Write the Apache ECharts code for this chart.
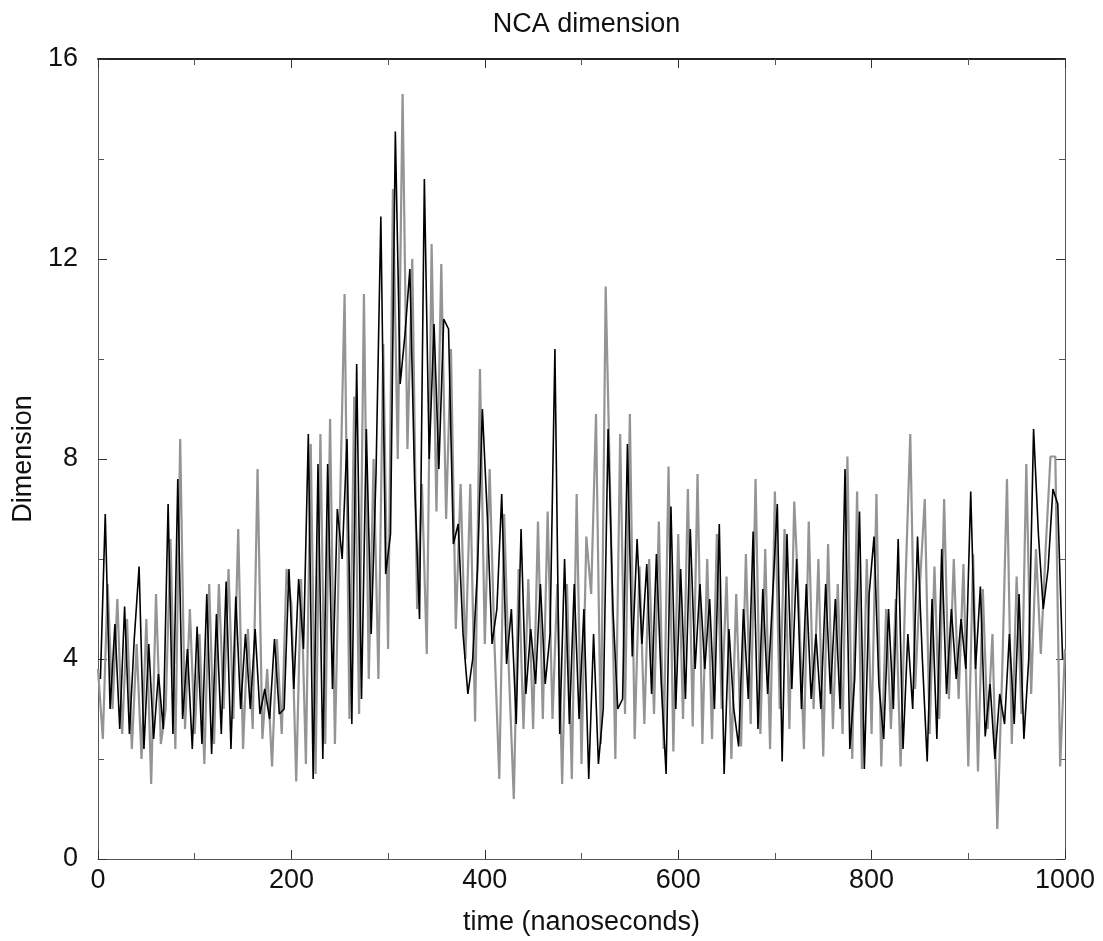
<!DOCTYPE html>
<html>
<head>
<meta charset="utf-8">
<script src="https://cdn.jsdelivr.net/npm/echarts@6/dist/echarts.min.js"></script>
<style>
html,body{margin:0;padding:0;background:#fff;}
#chart{width:1103px;height:941px;}
</style>
</head>
<body>
<div id="chart"></div>
<script>
// ---- data ----
const titleText = 'NCA dimension';
const xName = 'time (nanoseconds)';
const yName = 'Dimension';
const xTicks = [0, 200, 400, 600, 800, 1000];
const yTicks = [0, 4, 8, 12, 16];

// gray trace, sampled every 5 ns starting at 0 ns
const grayStart = 0, grayStep = 5;
const grayValues = [
  3.8, 2.4, 5.5, 3.0, 5.2, 2.5, 4.8, 2.2, 4.3, 2.0,
  4.8, 1.5, 5.3, 2.3, 3.0, 6.4, 2.2, 8.4, 2.6, 5.0,
  2.5, 4.5, 1.9, 5.5, 2.3, 5.5, 3.0, 5.8, 2.8, 6.6,
  2.2, 4.6, 2.6, 7.8, 2.4, 3.8, 1.85, 4.4, 2.5, 5.8,
  5.1, 1.55, 5.6, 1.9, 8.3, 1.7, 8.5, 2.3, 8.8, 2.3,
  6.8, 11.3, 2.8, 9.25, 2.9, 11.3, 3.6, 8.0, 3.6, 10.3,
  4.2, 13.4, 8.0, 15.3, 8.2, 12.0, 5.0, 7.5, 4.1, 12.3,
  6.95, 11.9, 6.8, 10.2, 4.6, 7.5, 4.0, 7.5, 2.75, 9.8,
  4.3, 7.8, 4.3, 1.6, 6.9, 3.7, 1.2, 5.8, 2.6, 5.6,
  2.6, 6.75, 2.8, 6.95, 2.8, 5.5, 1.5, 5.5, 1.6, 7.3,
  1.9, 6.45, 5.3, 8.9, 2.3, 11.45, 7.0, 2.0, 8.5, 2.9,
  8.9, 2.4, 5.85, 2.7, 6.0, 2.9, 6.75, 2.2, 7.85, 2.15,
  6.5, 2.8, 7.4, 2.65, 7.7, 2.3, 6.0, 2.4, 6.5, 3.0,
  5.65, 2.0, 5.3, 2.25, 6.1, 2.7, 7.6, 2.5, 6.2, 2.2,
  7.35, 3.0, 6.6, 2.6, 7.15, 5.0, 2.2, 6.75, 3.0, 6.0,
  2.05, 6.3, 2.6, 5.5, 2.5, 8.05, 2.0, 7.35, 1.8, 6.0,
  2.5, 7.3, 1.85, 5.0, 2.6, 5.2, 1.85, 5.5, 8.5, 3.4,
  5.5, 7.2, 2.5, 5.85, 2.8, 7.2, 3.2, 6.0, 3.2, 5.9,
  1.85, 6.1, 1.75, 5.4, 2.6, 4.5, 0.6, 3.7, 7.6, 2.3,
  5.65, 2.9, 7.9, 3.3, 6.2, 4.1, 6.2, 8.05, 8.05, 1.85,
  4.2
];

// black trace, sampled every 5 ns starting at 2.5 ns
const blackStart = 2.5, blackStep = 5;
const blackValues = [
  3.6, 6.9, 3.0, 4.7, 2.6, 5.05, 2.5, 4.4, 5.85, 2.2,
  4.3, 2.4, 3.7, 2.6, 7.1, 2.5, 7.6, 2.8, 4.2, 2.2,
  4.65, 2.3, 5.3, 2.1, 4.9, 2.5, 5.55, 2.2, 5.25, 3.0,
  4.5, 3.0, 4.6, 2.9, 3.4, 2.8, 4.4, 2.9, 3.0, 5.8,
  3.4, 5.6, 4.2, 8.5, 1.6, 7.9, 2.0, 7.9, 3.4, 7.0,
  6.0, 8.4, 2.7, 9.9, 3.2, 8.6, 4.5, 7.7, 12.85, 5.7,
  6.5, 14.55, 9.5, 10.5, 11.8, 7.5, 4.8, 13.6, 8.0, 10.7,
  7.8, 10.8, 10.6, 6.3, 6.7, 4.5, 3.3, 4.0, 5.8, 9.0,
  6.9, 4.3, 5.0, 7.3, 3.9, 5.0, 2.7, 6.6, 3.3, 4.6,
  3.5, 5.5, 3.5, 4.5, 10.2, 2.5, 6.0, 2.7, 5.5, 2.8,
  5.0, 1.6, 4.5, 1.9, 3.0, 8.6, 5.0, 3.0, 3.2, 8.3,
  4.05, 6.4, 4.3, 5.9, 3.3, 6.1, 3.5, 1.7, 7.05, 3.0,
  5.8, 3.2, 6.6, 3.8, 5.5, 3.8, 5.2, 3.0, 6.7, 1.7,
  4.6, 3.0, 2.25, 5.0, 3.2, 6.55, 2.6, 5.4, 3.3, 5.2,
  7.1, 1.95, 6.5, 3.4, 6.0, 3.0, 5.5, 3.2, 4.5, 3.0,
  5.5, 3.3, 5.2, 3.0, 7.8, 2.2, 3.6, 6.95, 1.8, 5.3,
  6.45, 3.5, 2.4, 5.0, 3.0, 6.4, 2.2, 4.5, 3.0, 6.45,
  4.0, 1.95, 5.2, 2.4, 6.2, 3.3, 5.0, 3.6, 4.8, 3.8,
  7.35, 3.8, 5.45, 2.45, 3.5, 2.0, 3.3, 2.7, 4.5, 2.7,
  5.3, 2.4, 4.0, 8.6, 6.5, 5.0, 5.8, 7.4, 7.1, 4.0
];

const grayData = grayValues.map((v, i) => [grayStart + i * grayStep, v]);
const blackData = blackValues.map((v, i) => [blackStart + i * blackStep, v]);

const FONT = 'Liberation Sans, Arial, Helvetica, sans-serif';
const chart = echarts.init(document.getElementById('chart'), null, {renderer: 'canvas'});

const xMin = xTicks[0], xMax = xTicks[xTicks.length - 1];
const yMin = yTicks[0], yMax = yTicks[yTicks.length - 1];
const xInt = xTicks[1] - xTicks[0], yInt = yTicks[1] - yTicks[0];

const frameLine = {show: true, onZero: false, lineStyle: {color: '#555', width: 1}};

chart.setOption({
  animation: false,
  backgroundColor: '#fff',
  title: {
    text: titleText,
    left: 581.5,
    top: 6,
    textAlign: 'center',
    textStyle: {fontFamily: FONT, fontSize: 27, fontWeight: 'normal', color: '#111'}
  },
  grid: {left: 98, right: 38, top: 59, bottom: 81, containLabel: false},
  xAxis: [{
    type: 'value', position: 'bottom', min: xMin, max: xMax, interval: xInt,
    name: xName, nameLocation: 'middle', nameGap: 50,
    nameTextStyle: {fontFamily: FONT, fontSize: 27, color: '#111'},
    axisLine: frameLine,
    axisTick: {show: true, inside: true, length: 9, lineStyle: {color: '#333'}},
    minorTick: {show: true, splitNumber: 2, length: 6, lineStyle: {color: '#555'}},
    axisLabel: {fontFamily: FONT, fontSize: 27, color: '#111', margin: 8,
      formatter: function (v) { return String(v); }},
    splitLine: {show: false}
  }, {
    type: 'value', position: 'top', min: xMin, max: xMax, interval: xInt,
    axisLine: {show: true, onZero: false, lineStyle: {color: '#222', width: 2}},
    axisTick: {show: true, inside: true, length: 9, lineStyle: {color: '#333'}},
    minorTick: {show: true, splitNumber: 2, length: 6, lineStyle: {color: '#555'}},
    axisLabel: {show: false},
    splitLine: {show: false}
  }],
  yAxis: [{
    type: 'value', position: 'left', min: yMin, max: yMax, interval: yInt,
    name: yName, nameLocation: 'middle', nameGap: 60, nameRotate: 90,
    nameTextStyle: {fontFamily: FONT, fontSize: 27, color: '#111'},
    axisLine: frameLine,
    axisTick: {show: true, inside: true, length: 9, lineStyle: {color: '#333'}},
    minorTick: {show: true, splitNumber: 2, length: 6, lineStyle: {color: '#555'}},
    axisLabel: {fontFamily: FONT, fontSize: 27, color: '#111', margin: 20},
    splitLine: {show: false}
  }, {
    type: 'value', position: 'right', min: yMin, max: yMax, interval: yInt,
    axisLine: frameLine,
    axisTick: {show: true, inside: true, length: 9, lineStyle: {color: '#333'}},
    minorTick: {show: true, splitNumber: 2, length: 6, lineStyle: {color: '#555'}},
    axisLabel: {show: false},
    splitLine: {show: false}
  }],
  series: [{
    name: 'gray', type: 'line', xAxisIndex: 0, yAxisIndex: 0,
    data: grayData, showSymbol: false, symbol: 'none',
    lineStyle: {color: '#949494', width: 2.2}, z: 2
  }, {
    name: 'black', type: 'line', xAxisIndex: 0, yAxisIndex: 0,
    data: blackData, showSymbol: false, symbol: 'none',
    lineStyle: {color: '#000', width: 1.6}, z: 3
  }]
});
</script>
</body>
</html>
